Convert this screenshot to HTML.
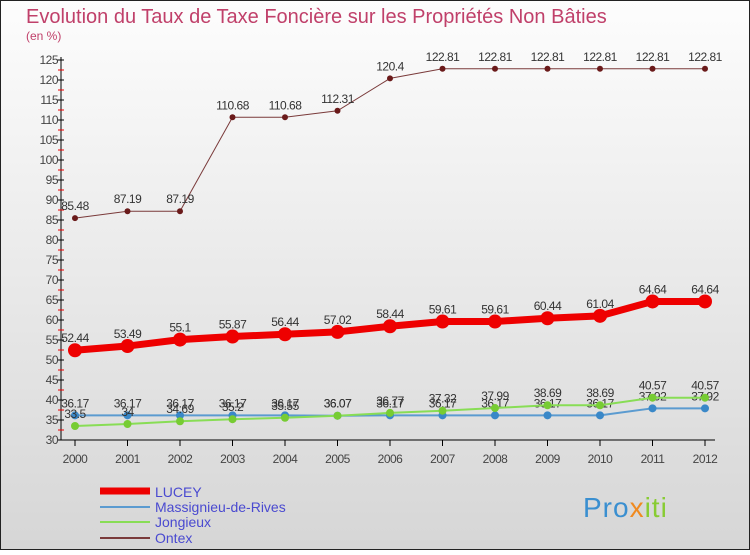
<!DOCTYPE html>
<html><head><meta charset="utf-8"><style>
body{margin:0;}
#c{width:750px;height:550px;position:relative;font-family:"Liberation Sans",sans-serif;}
text{font-family:"Liberation Sans",sans-serif;}
</style></head><body>
<div id="c">
<svg id="s" width="750" height="550" xmlns="http://www.w3.org/2000/svg">
<defs><linearGradient id="bg" x1="0" y1="0" x2="0" y2="1"><stop offset="0" stop-color="#fdfdfd"/><stop offset="1" stop-color="#d6d6d6"/></linearGradient></defs>
<rect x="0.5" y="0.5" width="749" height="549" fill="url(#bg)" stroke="#222"/>
<text x="26" y="23" font-size="20" fill="#c0406a">Evolution du Taux de Taxe Foncière sur les Propriétés Non Bâties</text>
<text x="26" y="40" font-size="12" fill="#c0406a">(en %)</text>
<g id="axes"></g><g id="series"></g>
<g>
<line x1="100" y1="491" x2="150" y2="491" stroke="#ee0000" stroke-width="7"/><text x="155" y="497" font-size="14" fill="#4a4ad0">LUCEY</text>
<line x1="100" y1="507" x2="150" y2="507" stroke="#5b9bd0" stroke-width="2"/><text x="155" y="512" font-size="14" fill="#4a4ad0">Massignieu-de-Rives</text>
<line x1="100" y1="522" x2="150" y2="522" stroke="#88dd55" stroke-width="2"/><text x="155" y="527" font-size="14" fill="#4a4ad0">Jongieux</text>
<line x1="100" y1="538" x2="150" y2="538" stroke="#7a3a3a" stroke-width="2"/><text x="155" y="543" font-size="14" fill="#4a4ad0">Ontex</text>
</g>
<text x="583" y="517" font-size="28" fill="#3a8fd0" letter-spacing="1">Pro<tspan fill="#f08a20">x</tspan><tspan fill="#88cc33">iti</tspan></text>
</svg></div>
<script>
const years=[2000,2001,2002,2003,2004,2005,2006,2007,2008,2009,2010,2011,2012];
const ticks=[30,35,40,45,50,55,60,65,70,75,80,85,90,95,100,105,110,115,120,125];
const ontex=[85.48,87.19,87.19,110.68,110.68,112.31,120.4,122.81,122.81,122.81,122.81,122.81,122.81];
const lucey=[52.44,53.49,55.1,55.87,56.44,57.02,58.44,59.61,59.61,60.44,61.04,64.64,64.64];
const massignieu=[36.17,36.17,36.17,36.17,36.17,36.07,36.17,36.17,36.17,36.17,36.17,37.92,37.92];
const jongieux=[33.5,34,34.69,35.2,35.55,36.07,36.77,37.32,37.99,38.69,38.69,40.57,40.57];
const NS="http://www.w3.org/2000/svg";
const X=i=>75+i*52.5, Y=v=>440-(v-30)*4;
function mk(t,a,p){const e=document.createElementNS(NS,t);for(const k in a)e.setAttribute(k,a[k]);p.appendChild(e);return e;}
const ax=document.getElementById('axes'), sg=document.getElementById('series');
let l=mk('line',{x1:61,y1:57,x2:61,y2:440,stroke:'#000'},ax);


l=mk('line',{x1:61,y1:440,x2:715,y2:440,stroke:'#000'},ax);


ticks.forEach(v=>{mk('line',{x1:57,y1:Y(v),x2:64,y2:Y(v),stroke:'#000'},ax);
 if(v<125)mk('line',{x1:58,y1:Y(v+2.5),x2:64,y2:Y(v+2.5),stroke:'#e00'},ax);
 const t=mk('text',{x:58,y:Y(v)+4,'font-size':12,fill:'#444','text-anchor':'end','letter-spacing':'-0.5'},ax);t.textContent=v;
 
 });
years.forEach((y,i)=>{mk('line',{x1:X(i),y1:440,x2:X(i),y2:446,stroke:'#000'},ax);
 const t=mk('text',{x:X(i),y:463,'font-size':12,fill:'#444','text-anchor':'middle','letter-spacing':'-0.5'},ax);t.textContent=y;
 
 });
function series(d,col,w,r,name,dotcol){
 const g=mk('g',{},sg);
 
 
 mk('polyline',{points:d.map((v,i)=>X(i)+','+Y(v)).join(' '),fill:'none',stroke:col,'stroke-width':w},g);
 d.forEach((v,i)=>{const c=mk('circle',{cx:X(i),cy:Y(v),r:r,fill:dotcol},g);
  
  
  const t=mk('text',{x:X(i),y:Y(v)-8,'font-size':12,fill:'#333','text-anchor':'middle','letter-spacing':'-0.5'},g);t.textContent=v;});
}
series(ontex,'#7a3a3a',1,3,'series-ontex','#6a1a1a');
series(massignieu,'#5b9bd0',2,4,'series-massignieu','#3a88c8');
series(jongieux,'#88dd55',2,4,'series-jongieux','#77cc33');
series(lucey,'#ee0000',7,7,'series-lucey','#ee0000');
</script>
</body></html>
